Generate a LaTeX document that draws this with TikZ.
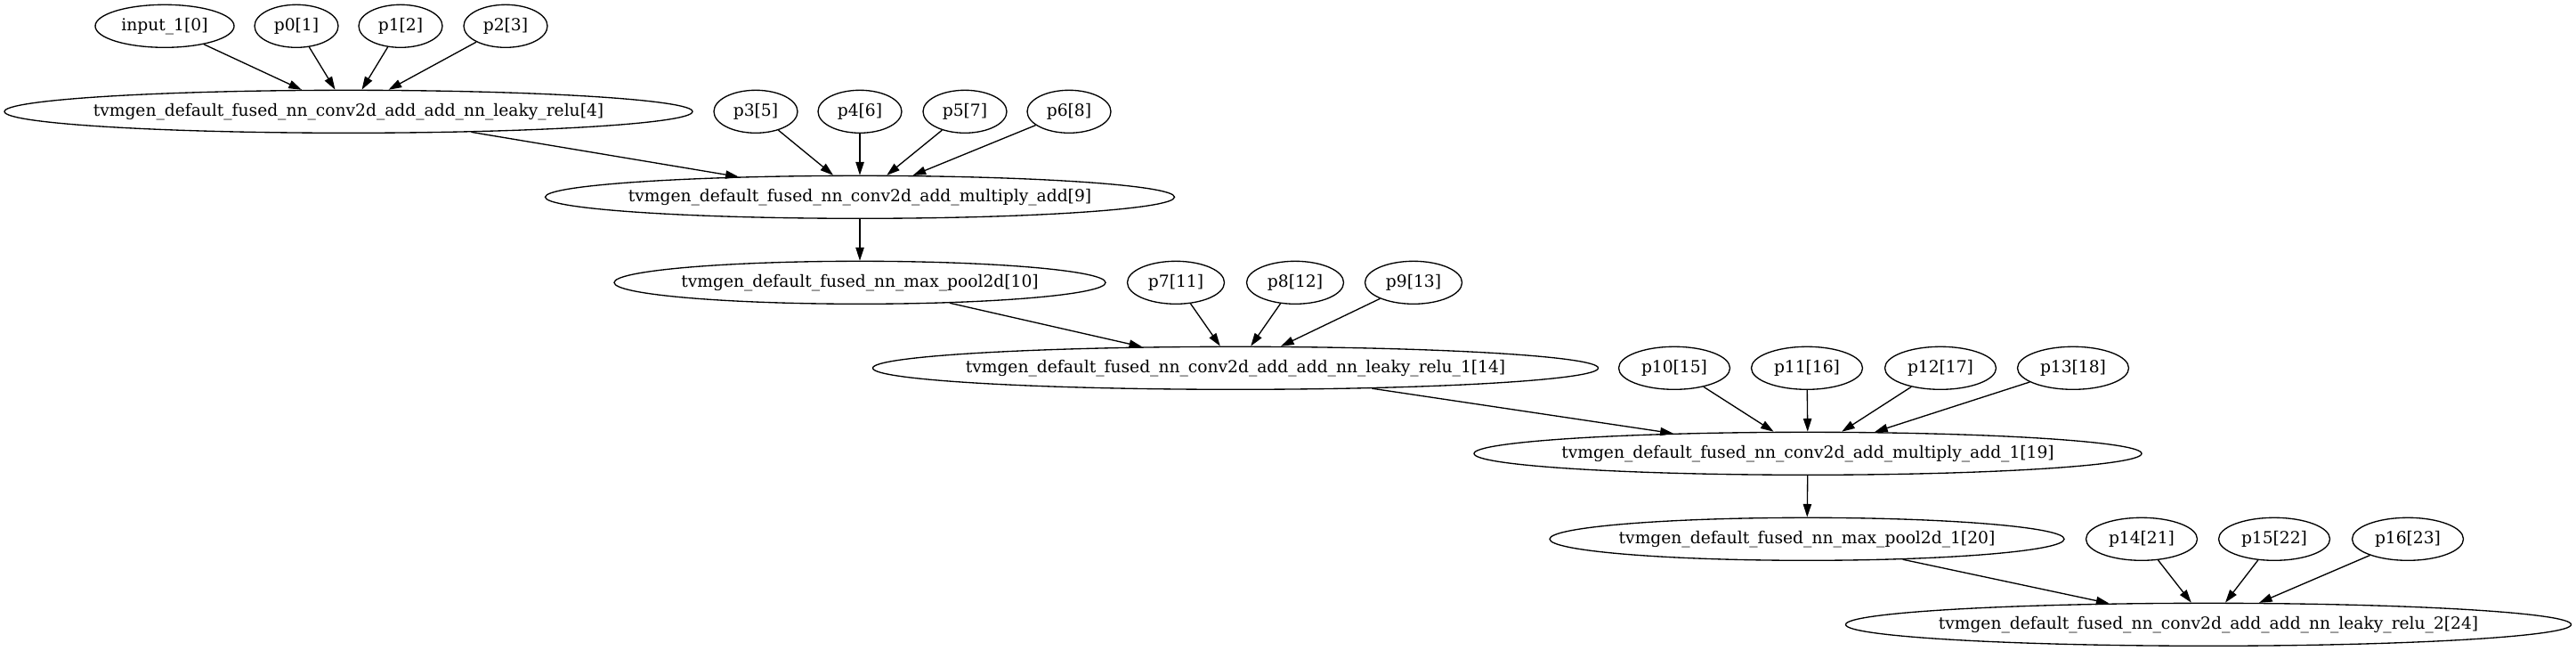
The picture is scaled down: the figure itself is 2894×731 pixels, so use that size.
\documentclass[tikz,border=0pt]{standalone}
\usepackage{fontspec}
\setmainfont{DejaVu Serif}
\usetikzlibrary{shapes.geometric,arrows.meta}
\tikzset{
  gnode/.style={ellipse, draw, line width=1pt, inner sep=0pt, minimum height=36pt,
    font=\fontsize{14pt}{16pt}\selectfont},
  gedge/.style={draw, line width=1pt, -{Triangle[length=11pt,width=7pt]}},
}
\newcommand{\lbl}[1]{\makebox[0pt]{#1}}
\begin{document}
\begin{tikzpicture}[x=0.75pt,y=-0.75pt]
\fill[white] (0,0) rectangle (2894,731);
\useasboundingbox (0,0) rectangle (2894,731);
% rank 0
\node[gnode, minimum width=117pt] (in0) at (185,29.3) {\lbl{input\_1[0]}};
\node[gnode, minimum width=70.5pt] (p0) at (333,29.3) {\lbl{p0[1]}};
\node[gnode, minimum width=70.5pt] (p1) at (450,29.3) {\lbl{p1[2]}};
\node[gnode, minimum width=70.5pt] (p2) at (568,29.3) {\lbl{p2[3]}};
% rank 1
\node[gnode, minimum width=579.75pt] (c4) at (391.5,125.3) {\lbl{tvmgen\_default\_fused\_nn\_conv2d\_add\_add\_nn\_leaky\_relu[4]}};
\node[gnode, minimum width=70.5pt] (p3) at (849,125.3) {\lbl{p3[5]}};
\node[gnode, minimum width=70.5pt] (p4) at (966,125.3) {\lbl{p4[6]}};
\node[gnode, minimum width=70.5pt] (p5) at (1084,125.3) {\lbl{p5[7]}};
\node[gnode, minimum width=70.5pt] (p6) at (1201,125.3) {\lbl{p6[8]}};
% rank 2
\node[gnode, minimum width=530.25pt] (c9) at (966,221.3) {\lbl{tvmgen\_default\_fused\_nn\_conv2d\_add\_multiply\_add[9]}};
% rank 3
\node[gnode, minimum width=414pt] (m10) at (966,317.3) {\lbl{tvmgen\_default\_fused\_nn\_max\_pool2d[10]}};
\node[gnode, minimum width=81.75pt] (p7) at (1321,317.3) {\lbl{p7[11]}};
\node[gnode, minimum width=81.75pt] (p8) at (1455,317.3) {\lbl{p8[12]}};
\node[gnode, minimum width=81.75pt] (p9) at (1588,317.3) {\lbl{p9[13]}};
% rank 4
\node[gnode, minimum width=611.25pt] (c14) at (1388,413.3) {\lbl{tvmgen\_default\_fused\_nn\_conv2d\_add\_add\_nn\_leaky\_relu\_1[14]}};
\node[gnode, minimum width=93.75pt] (p10) at (1881,413.3) {\lbl{p10[15]}};
\node[gnode, minimum width=93.75pt] (p11) at (2030,413.3) {\lbl{p11[16]}};
\node[gnode, minimum width=93.75pt] (p12) at (2180,413.3) {\lbl{p12[17]}};
\node[gnode, minimum width=93.75pt] (p13) at (2329,413.3) {\lbl{p13[18]}};
% rank 5
\node[gnode, minimum width=562.5pt] (c19) at (2031,509.3) {\lbl{tvmgen\_default\_fused\_nn\_conv2d\_add\_multiply\_add\_1[19]}};
% rank 6
\node[gnode, minimum width=433.5pt] (m20) at (2030,605.3) {\lbl{tvmgen\_default\_fused\_nn\_max\_pool2d\_1[20]}};
\node[gnode, minimum width=93.75pt] (p14) at (2406,605.3) {\lbl{p14[21]}};
\node[gnode, minimum width=93.75pt] (p15) at (2555,605.3) {\lbl{p15[22]}};
\node[gnode, minimum width=93.75pt] (p16) at (2705,605.3) {\lbl{p16[23]}};
% rank 7
\node[gnode, minimum width=611.25pt] (c24) at (2481,701.3) {\lbl{tvmgen\_default\_fused\_nn\_conv2d\_add\_add\_nn\_leaky\_relu\_2[24]}};
% edges
\foreach \s in {in0,p0,p1,p2} \draw[gedge] (\s) -- (c4);
\foreach \s in {c4,p3,p4,p5,p6} \draw[gedge] (\s) -- (c9);
\draw[gedge] (c9) -- (m10);
\foreach \s in {m10,p7,p8,p9} \draw[gedge] (\s) -- (c14);
\foreach \s in {c14,p10,p11,p12,p13} \draw[gedge] (\s) -- (c19);
\draw[gedge] (c19) -- (m20);
\foreach \s in {m20,p14,p15,p16} \draw[gedge] (\s) -- (c24);
\end{tikzpicture}
\end{document}
